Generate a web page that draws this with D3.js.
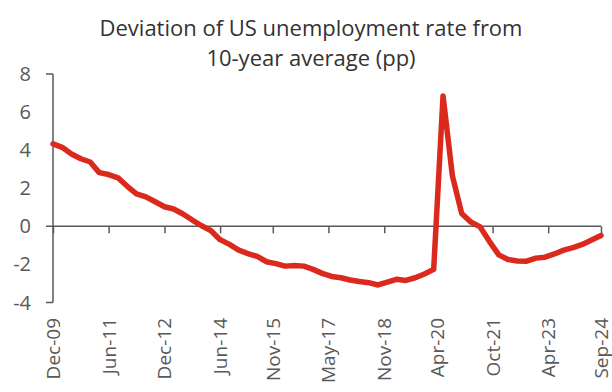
<!DOCTYPE html>
<html>
<head>
<meta charset="utf-8">
<script src="https://cdn.jsdelivr.net/npm/d3@7"></script>
<style>
  html, body { margin: 0; padding: 0; background: #fff; }
  svg { display: block; }
  text { font-family: "Open Sans", Lato, sans-serif; }
</style>
</head>
<body>
<svg id="chart" width="612" height="392"></svg>
<script>
// Quarterly deviation of the US unemployment rate from its 10-year average (pp),
// Q4 2009 to Q3 2024, one value per quarter-end month.
const startMonth = "2009-12";
const deviation = [
  4.33, 4.15, 3.80, 3.55, 3.38, 2.82, 2.72, 2.55, 2.10, 1.70,
  1.55, 1.29, 1.03, 0.91, 0.65, 0.33, 0.03, -0.22, -0.70, -0.95,
  -1.25, -1.43, -1.58, -1.86, -1.96, -2.09, -2.06, -2.09, -2.26, -2.47,
  -2.63, -2.70, -2.82, -2.90, -2.96, -3.08, -2.93, -2.78, -2.84, -2.70,
  -2.50, -2.26, 6.85, 2.65, 0.68, 0.23, -0.03, -0.80, -1.50, -1.74,
  -1.82, -1.83, -1.67, -1.62, -1.45, -1.25, -1.12, -0.95, -0.72, -0.48
];
const xTickLabels = ["Dec-09", "Jun-11", "Dec-12", "Jun-14", "Nov-15", "May-17",
                     "Nov-18", "Apr-20", "Oct-21", "Apr-23", "Sep-24"];
const yTicks = [-4, -2, 0, 2, 4, 6, 8];
const titleLines = ["Deviation of US unemployment rate from", "10-year average (pp)"];

const parseMonth = d3.timeParse("%Y-%m");
const parseLabel = d3.timeParse("%b-%y");
const start = parseMonth(startMonth);
const data = deviation.map((v, i) => ({ date: d3.timeMonth.offset(start, 3 * i), value: v }));
const tickDates = xTickLabels.map(parseLabel);

const svg = d3.select("#chart");
const axisColor = "#595959";

const x = d3.scaleTime()
  .domain([start, data[data.length - 1].date])
  .range([53, 601]);
const y = d3.scaleLinear()
  .domain([-4, 8])
  .range([302.5, 74]);

// Title
svg.append("g")
  .selectAll("text")
  .data(titleLines)
  .join("text")
  .attr("x", 311)
  .attr("y", (d, i) => 36 + i * 30)
  .attr("text-anchor", "middle")
  .attr("font-size", 22)
  .attr("fill", "#333")
  .text(d => d);

// Y axis: labels only, plus end ticks
const yAxis = svg.append("g").attr("transform", "translate(53,0)");
yAxis.append("line")
  .attr("x1", 0).attr("x2", 0)
  .attr("y1", y(8)).attr("y2", y(-4))
  .attr("stroke", axisColor).attr("stroke-width", 1.5);
yAxis.selectAll("line.tick")
  .data([8, -4])
  .join("line")
  .attr("class", "tick")
  .attr("x1", -7).attr("x2", 0)
  .attr("y1", d => y(d)).attr("y2", d => y(d))
  .attr("stroke", axisColor).attr("stroke-width", 1.5);
yAxis.selectAll("text")
  .data(yTicks)
  .join("text")
  .attr("x", -22)
  .attr("y", d => y(d))
  .attr("dy", "0.35em")
  .attr("text-anchor", "end")
  .attr("font-size", 20)
  .attr("fill", axisColor)
  .text(d => d);

// X axis along zero
const xAxis = d3.axisBottom(x)
  .tickValues(tickDates)
  .tickSize(7)
  .tickFormat(() => "");
const gx = svg.append("g")
  .attr("transform", `translate(0,${y(0)})`)
  .call(xAxis);
gx.select(".domain").attr("stroke", axisColor).attr("stroke-width", 1.5)
  .attr("d", `M46,0H${x.range()[1]}`);
gx.selectAll(".tick line").attr("stroke", axisColor).attr("stroke-width", 1.5);

// Rotated date labels below the plot
svg.append("g")
  .selectAll("text")
  .data(tickDates)
  .join("text")
  .attr("transform", d => `translate(${x(d) + 7},318) rotate(-90)`)
  .attr("text-anchor", "end")
  .attr("font-size", 19)
  .attr("fill", axisColor)
  .text((d, i) => xTickLabels[i]);

// Deviation line
svg.append("path")
  .datum(data)
  .attr("fill", "none")
  .attr("stroke", "#DC291E")
  .attr("stroke-width", 5.5)
  .attr("stroke-linejoin", "round")
  .attr("stroke-linecap", "round")
  .attr("d", d3.line().x(d => x(d.date)).y(d => y(d.value)));
</script>
</body>
</html>
